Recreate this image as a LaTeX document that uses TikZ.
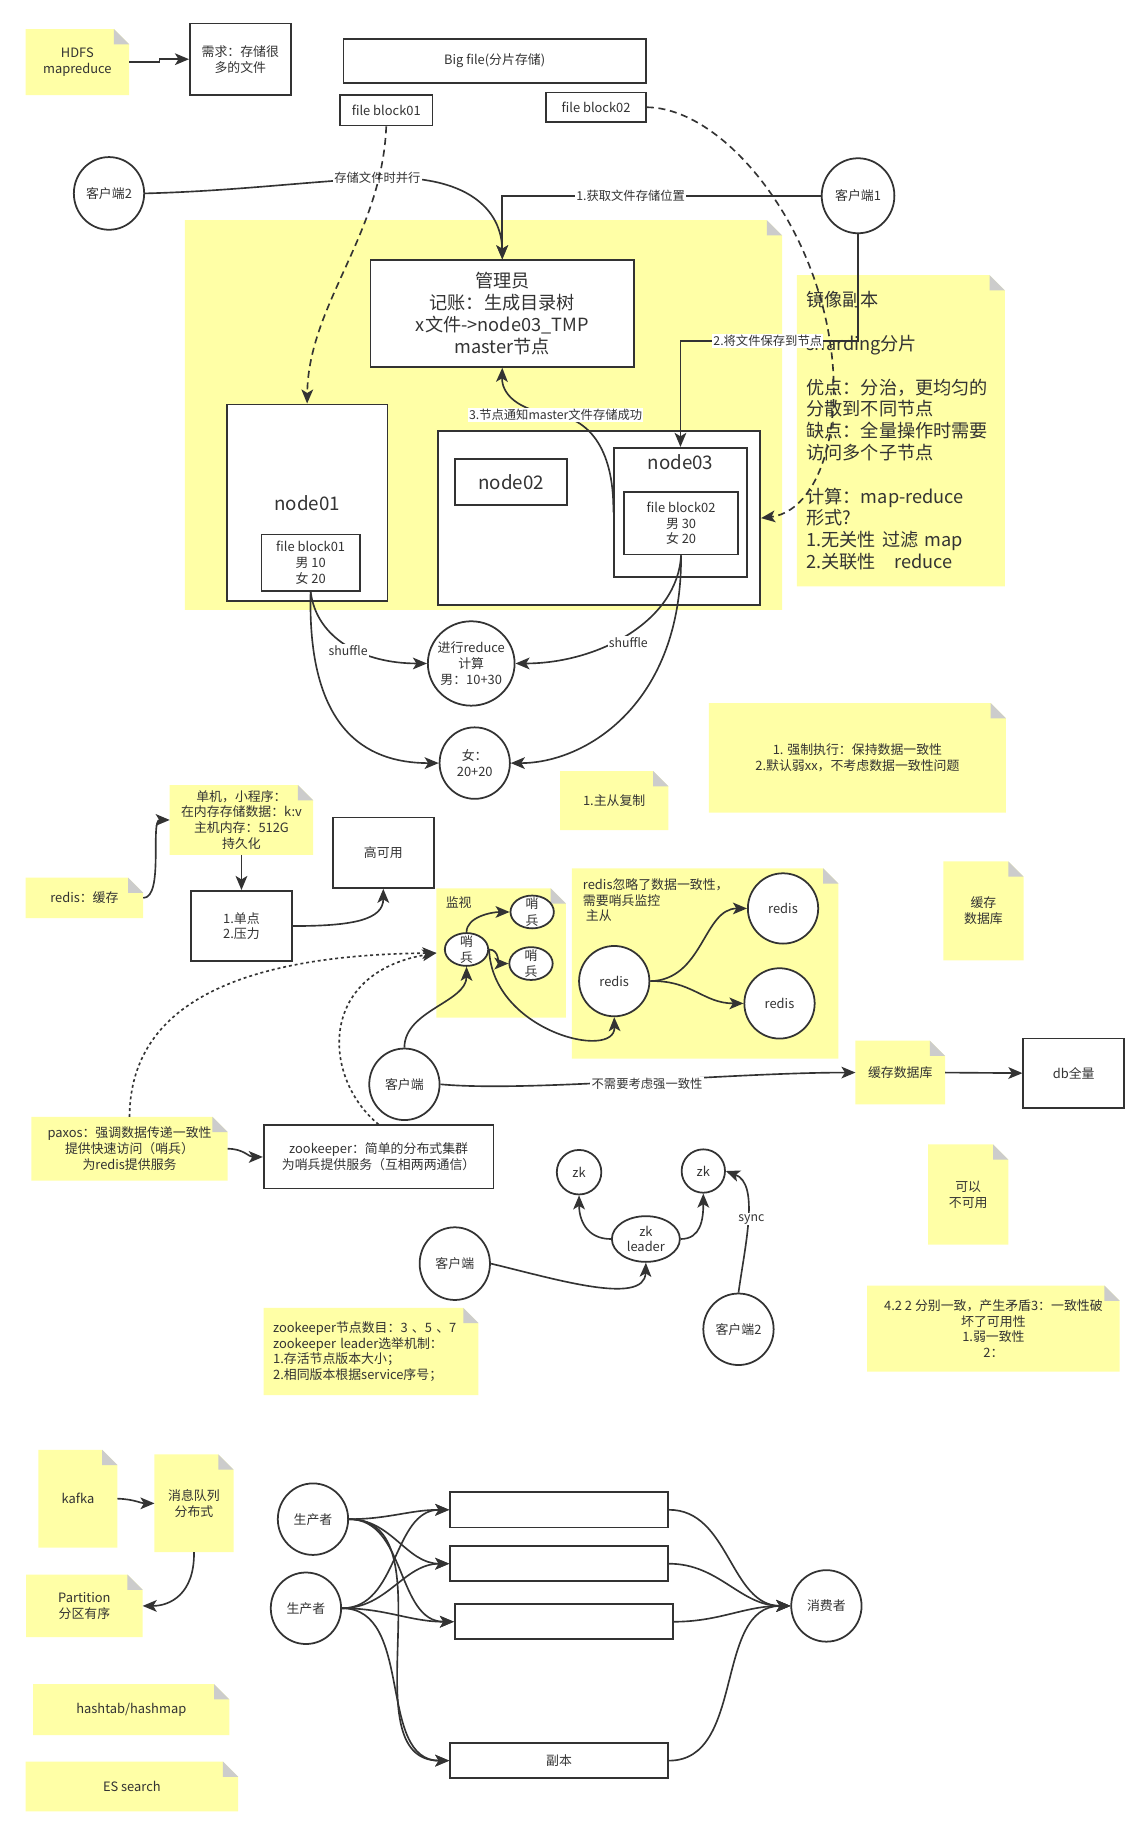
\documentclass[tikz,border=0pt]{standalone}
\usepackage{fontspec}
\setmainfont{Noto Sans CJK SC}
\usetikzlibrary{shapes.geometric,arrows.meta,backgrounds}
\definecolor{lc}{HTML}{333333}
\definecolor{tc}{HTML}{333333}
\definecolor{notefill}{HTML}{FFFFA6}
\definecolor{foldgray}{HTML}{CCCCCC}
\newcommand\fsm{\fontsize{11}{13.5}\selectfont}
\newcommand\fbig{\fontsize{15.5}{18.6}\selectfont}
\newcommand\fnode{\fontsize{16}{19}\selectfont}
\newcommand\flbl{\fontsize{10.5}{12}\selectfont}
\newcommand\drawnote[1]{%
  \fill[notefill] (#1.north west) -- ([xshift=-13pt]#1.north east) -- ([yshift=-13pt]#1.north east) -- (#1.south east) -- (#1.south west) -- cycle;
  \fill[foldgray] ([xshift=-13pt]#1.north east) -- ([xshift=-13pt,yshift=-13pt]#1.north east) -- ([yshift=-13pt]#1.north east) -- cycle;}
\begin{document}
\begin{tikzpicture}[x=1pt,y=-1pt,
  every node/.append style={text=tc},
  box/.style={draw=lc, fill=white, line width=1.5pt, font=\fsm, align=center, inner sep=1pt},
  circ/.style={ellipse, draw=lc, fill=white, line width=1.5pt, inner sep=0pt},
  ctext/.style={label={[font=\fsm, align=center, text=tc]center:{#1}}},
  stext/.style={label={[font=\fontsize{11}{14}\selectfont, align=center, text=tc]center:{#1}}},
  note/.style={font=\fsm, align=center, inner sep=0pt},
  arr/.style={draw=lc, line width=1.4pt, -{Stealth[length=12pt,width=10pt,inset=3pt]}},
  lbl/.style={fill=white, font=\flbl, inner sep=1pt},
  dsh/.style={dash pattern=on 6pt off 4pt},
  dts/.style={dash pattern=on 2.5pt off 2.5pt}
]
\useasboundingbox (0,0) rectangle (978.5,1566.3);

% ---------- top ----------
\node[note, minimum width=88pt, minimum height=56pt] (hdfs) at (66,53) {HDFS\\mapreduce};
\node[box, minimum width=86pt, minimum height=61pt] (req) at (205,50.5) {需求：存储很\\多的文件};
\node[box, minimum width=258pt, minimum height=38pt] (big) at (422,52) {Big file(分片存储)};
\node[box, minimum width=79pt, minimum height=26pt] (fbtop1) at (329.5,94) {file block01};
\node[box, minimum width=85pt, minimum height=25pt] (fbtop2) at (508.5,91.5) {file block02};
\node[circ, minimum width=60pt, minimum height=62pt, ctext=客户端2] (cl2) at (93,165) {};
\node[circ, minimum width=62pt, minimum height=64pt, ctext=客户端1] (cl1) at (732,167) {};

\node[note, minimum width=509pt, minimum height=332pt] (region) at (412.5,354) {};
\node[box, font=\fbig, minimum width=225pt, minimum height=91pt] (mgr) at (428.5,267.5) {管理员\\记账：生成目录树\\x文件->node03\_TMP\\master节点};
\node[box, font=\fnode, minimum width=137pt, minimum height=168pt] (n1) at (262,429) {node01};
\node[box, minimum width=84pt, minimum height=48pt] (fb1) at (265,480) {file block01\\男 10\\女 20};
\node[box, minimum width=275pt, minimum height=148pt] (outer) at (511,442) {};
\node[box, font=\fnode, minimum width=96pt, minimum height=39pt] (n2) at (436,411) {node02};
\node[box, minimum width=113pt, minimum height=110pt, label={[font=\fnode, text=tc, anchor=north, yshift=-3pt]north:node03}] (n3) at (580.5,437) {};
\node[box, minimum width=97pt, minimum height=53pt] (fb2) at (581,446.5) {file block02\\男 30\\女 20};

\node[note, font=\fbig, align=left, text width=161pt, minimum width=177pt, minimum height=265pt] (mirror) at (768.5,367.5) {镜像副本\\~\\sharding分片\\~\\优点：分治，更均匀的\\分散到不同节点\\缺点：全量操作时需要\\访问多个子节点\\~\\计算：map-reduce\\形式?\\1.无关性 过滤 map\\2.关联性\ \ \ reduce};

\node[circ, minimum width=74pt, minimum height=72pt, ctext={进行reduce\\计算\\男：10+30}] (red) at (402,566) {};
\node[circ, minimum width=60pt, minimum height=61pt, ctext={女：\\20+20}] (nv) at (405,651) {};

% top connectors
\draw[arr] (hdfs.east) -- (136,53) -- (136,50.5) -- (req.west);
\draw[arr] (cl2.east) .. controls (200,163) and (260,155) .. (322,152) .. controls (400,148) and (428,180) .. (mgr.north);
\node[lbl] (l1) at (322,152) {存储文件时并行};
\draw[arr] (cl1.west) -| (mgr.north);
\node[lbl] (l2) at (538,167) {1.获取文件存储位置};
\draw[arr, dsh] (fbtop1.south) .. controls (326,200) and (263,260) .. (n1.north);
\draw[arr, dsh] (fbtop2.east) .. controls (620,92) and (705,200) .. (711,320) .. controls (714,390) and (690,437) .. (outer.east);
\draw[arr] (cl1.south) -- (732,291) -| (n3.north);
\node[lbl] (l3) at (655,291) {2.将文件保存到节点};
\draw[arr] (n3.west) .. controls (524,380) and (500,357) .. (474,354) .. controls (440,350) and (428,335) .. (mgr.south);
\node[lbl] (l4) at (474,354) {3.节点通知master文件存储成功};

\draw[arr] (fb1.south) .. controls (270,545) and (310,566) .. (red.west);
\node[lbl] (sh1) at (297,555) {shuffle};
\draw[arr] (fb1.south) .. controls (262,620) and (310,651) .. (nv.west);
\draw[arr] (fb2.south) .. controls (578,530) and (510,566) .. (red.east);
\node[lbl] (sh2) at (536,548) {shuffle};
\draw[arr] (fb2.south) .. controls (582,600) and (500,651) .. (nv.east);

% ---------- middle notes ----------
\node[note, minimum width=253pt, minimum height=93pt] (strong) at (731.5,646.5) {1. 强制执行：保持数据一致性\\2.默认弱xx，不考虑数据一致性问题};
\node[note, minimum width=92pt, minimum height=50pt] (ms) at (524,683) {1.主从复制};
\node[note, minimum width=68pt, minimum height=84pt] (cachedbA) at (839,777) {缓存\\数据库};

% ---------- redis ----------
\node[note, minimum width=122pt, minimum height=59pt] (single) at (206,699.5) {单机，小程序：\\在内存存储数据：k:v\\主机内存：512G\\持久化};
\node[note, minimum width=100pt, minimum height=34pt] (rc) at (72,766) {redis：缓存};
\node[box, minimum width=86pt, minimum height=60pt] (sp) at (206,790) {1.单点\\2.压力};
\node[box, minimum width=86pt, minimum height=60pt] (ha) at (327,727.5) {高可用};
\node[note, minimum width=110pt, minimum height=110pt, label={[font=\fsm, text=tc, anchor=north west, xshift=4.5pt, yshift=-3.5pt]north west:监视}] (mon) at (427.5,813) {};
\node[circ, minimum width=37pt, minimum height=28pt, stext={哨\\兵}] (s1) at (398,810) {};
\node[circ, minimum width=37pt, minimum height=28pt, stext={哨\\兵}] (s2) at (454,778) {};
\node[circ, minimum width=37pt, minimum height=28pt, stext={哨\\兵}] (s3) at (453,822) {};
\node[note, minimum width=227pt, minimum height=162pt, label={[font=\fsm, text=tc, align=left, anchor=north west, xshift=6pt, yshift=-5pt]north west:{redis忽略了数据一致性，\\需要哨兵监控\\~主从}}] (rnote) at (601.5,822) {};
\node[circ, minimum width=60pt, minimum height=60pt, ctext=redis] (r1) at (524,837) {};
\node[circ, minimum width=60pt, minimum height=60pt, ctext=redis] (r2) at (668,775) {};
\node[circ, minimum width=60pt, minimum height=60pt, ctext=redis] (r3) at (665,856) {};
\node[circ, minimum width=60pt, minimum height=61pt, ctext=客户端] (c3) at (345,925) {};
\node[note, minimum width=76pt, minimum height=54pt] (cachedbB) at (768,915) {缓存数据库};
\node[box, minimum width=86pt, minimum height=59pt] (db) at (916,915.5) {db全量};
\node[note, minimum width=167pt, minimum height=54pt] (paxos) at (110.5,980) {paxos：强调数据传递一致性\\提供快速访问（哨兵）\\为redis提供服务};
\node[box, minimum width=196pt, minimum height=54pt] (zkbox) at (323,987) {zookeeper：简单的分布式集群\\为哨兵提供服务（互相两两通信）};

\draw[arr] (rc.east) .. controls (140,766) and (128,699.5) .. (single.west);
\draw[arr] (single.south) -- (sp.north);
\draw[arr] (sp.east) .. controls (300,790) and (327,785) .. (ha.south);
\draw[arr] (s1.north) .. controls (398,782) and (420,778) .. (s2.west);
\draw[arr] (s1.east) .. controls (426,810) and (425,822) .. (s3.west);
\draw[arr] (s1.east) .. controls (420,880) and (525,905) .. (r1.south);
\draw[arr] (c3.north) .. controls (345,862) and (398,855) .. (s1.south);
\draw[arr] (r1.east) .. controls (600,836) and (600,775) .. (r2.west);
\draw[arr] (r1.east) .. controls (590,836) and (600,856) .. (r3.west);
\draw[arr] (c3.east) .. controls (450,932) and (620,915) .. (cachedbB.west);
\node[lbl] (l5) at (552,925) {不需要考虑强一致性};
\draw[arr] (cachedbB.east) -- (db.west);
\draw[arr, dts] (paxos.north) .. controls (111,870) and (180,815) .. (mon.west);
\draw[arr, dts] (zkbox.north) .. controls (275,920) and (270,830) .. (mon.west);
\draw[arr] (paxos.east) .. controls (208,980) and (212,987) .. (zkbox.west);

% ---------- zookeeper ----------
\node[circ, minimum width=38pt, minimum height=38pt, ctext=zk] (zk1) at (494,1000) {};
\node[circ, minimum width=37pt, minimum height=37pt, ctext=zk] (zk2) at (600,999) {};
\node[circ, minimum width=58pt, minimum height=39pt, ctext={zk\\leader}] (leader) at (551,1057) {};
\node[circ, minimum width=60pt, minimum height=62pt, ctext=客户端] (c4) at (388,1078) {};
\node[circ, minimum width=60pt, minimum height=61pt, ctext=客户端2] (c5) at (630,1134) {};
\node[note, align=left, text width=167pt, minimum width=183pt, minimum height=74pt] (zknote) at (316.5,1153) {zookeeper节点数目：3 、5 、7\\zookeeper leader选举机制：\\1.存活节点版本大小；\\2.相同版本根据service序号；};
\node[note, minimum width=68pt, minimum height=85pt] (canote) at (826,1019) {可以\\不可用};
\node[note, font=\fontsize{11}{13.3}\selectfont, minimum width=215pt, minimum height=73pt] (n42) at (847.5,1133.5) {4.2 2 分别一致，产生矛盾3：一致性破\\坏了可用性\\1.弱一致性\\2：};

\draw[arr] (leader.west) .. controls (500,1057) and (494,1040) .. (zk1.south);
\draw[arr] (leader.east) .. controls (598,1057) and (600,1040) .. (zk2.south);
\draw[arr] (c4.east) .. controls (470,1090) and (550,1115) .. (leader.south);
\draw[arr] (c5.north) .. controls (636,1060) and (648,1010) .. (zk2.east);
\node[lbl] (l6) at (641,1040) {sync};

% ---------- kafka ----------
\node[note, minimum width=67pt, minimum height=83pt] (kafka) at (66.5,1278.5) {kafka};
\node[note, minimum width=67pt, minimum height=83pt] (mq) at (165.5,1282.5) {消息队列\\分布式};
\node[note, minimum width=99pt, minimum height=53pt] (part) at (72,1370) {Partition\\分区有序};
\node[note, minimum width=167pt, minimum height=43pt] (hasht) at (112,1458.5) {hashtab/hashmap};
\node[note, minimum width=181pt, minimum height=42pt] (es) at (112.5,1524) {ES search};

\node[circ, minimum width=60pt, minimum height=61pt, ctext=生产者] (p1) at (267,1296) {};
\node[circ, minimum width=60pt, minimum height=61pt, ctext=生产者] (p2) at (261,1372) {};
\node[box, minimum width=186pt, minimum height=30pt] (qa) at (477,1288) {};
\node[box, minimum width=186pt, minimum height=30pt] (qb) at (477,1334) {};
\node[box, minimum width=186pt, minimum height=30pt] (qc) at (481,1383.5) {};
\node[box, minimum width=186pt, minimum height=30pt] (qd) at (477,1502) {副本};
\node[circ, minimum width=60pt, minimum height=61pt, ctext=消费者] (cons) at (705,1370) {};

\draw[arr] (kafka.east) .. controls (115,1279) and (120,1282.5) .. (mq.west);
\draw[arr] (mq.south) .. controls (166,1360) and (145,1370) .. (part.east);
\foreach \p in {p1,p2}{
  \foreach \q in {qa,qb,qc,qd}{
    \draw[arr] (\p.east) to[out=0,in=180] (\q.west);
  }
}
\foreach \q in {qa,qb,qc,qd}{
  \draw[arr] (\q.east) to[out=0,in=180] (cons.west);
}

% ---------- notes background ----------
\begin{scope}[on background layer]
  \fill[white] (0,0) rectangle (978.5,1566.3);
  \foreach \n in {region,hdfs,mirror,strong,ms,cachedbA,single,rc,mon,rnote,cachedbB,paxos,zknote,canote,n42,kafka,mq,part,hasht,es}{
    \drawnote{\n}
  }
\end{scope}
\end{tikzpicture}
\end{document}
